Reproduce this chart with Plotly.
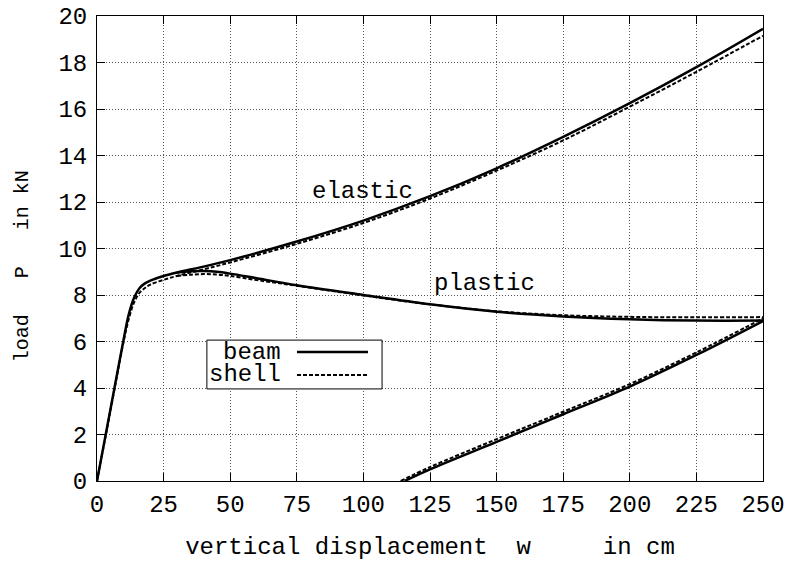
import plotly.graph_objects as go

# ---- data ----
beam_elastic_x = [0, 5, 10, 12, 14, 16, 18, 20, 25, 30, 40, 50, 75, 100, 125, 150, 175, 200, 225, 250]
beam_elastic_y = [0, 3.05, 6.1, 7.2, 7.9, 8.3, 8.5, 8.62, 8.82, 8.97, 9.22, 9.5, 10.3, 11.2, 12.25, 13.45, 14.8, 16.25, 17.8, 19.45]

shell_elastic_x = [0, 5, 10, 12, 14, 16, 18, 20, 25, 30, 40, 50, 75, 100, 125, 150, 175, 200, 225, 250]
shell_elastic_y = [0, 3.0, 6.0, 7.0, 7.7, 8.1, 8.3, 8.45, 8.65, 8.82, 9.1, 9.4, 10.2, 11.1, 12.15, 13.35, 14.65, 16.1, 17.6, 19.15]

beam_plastic_x = [30, 35, 40, 45, 50, 60, 75, 100, 125, 150, 175, 200, 225, 250]
beam_plastic_y = [8.97, 9.02, 9.03, 9.0, 8.92, 8.72, 8.42, 8.0, 7.6, 7.28, 7.08, 6.96, 6.9, 6.9]

shell_plastic_x = [30, 35, 40, 45, 50, 60, 75, 100, 125, 150, 175, 200, 225, 250]
shell_plastic_y = [8.82, 8.87, 8.9, 8.88, 8.82, 8.64, 8.4, 7.98, 7.6, 7.3, 7.13, 7.06, 7.04, 7.05]

beam_reload_x = [115.5, 125, 150, 175, 200, 225, 250]
beam_reload_y = [0, 0.5, 1.68, 2.87, 4.06, 5.42, 6.88]

shell_reload_x = [114, 125, 150, 175, 200, 225, 250]
shell_reload_y = [0, 0.6, 1.8, 2.98, 4.17, 5.53, 7.0]

x_ticks = [0, 25, 50, 75, 100, 125, 150, 175, 200, 225, 250]
y_ticks = [0, 2, 4, 6, 8, 10, 12, 14, 16, 18, 20]

FONT = "Liberation Mono"
FS = 24

beam_line = dict(color="black", width=2.5, shape="spline")
shell_line = dict(color="black", width=2, dash="4px,2px", shape="spline")

fig = go.Figure()
for xs, ys in [(beam_elastic_x, beam_elastic_y), (beam_plastic_x, beam_plastic_y), (beam_reload_x, beam_reload_y)]:
    fig.add_trace(go.Scatter(x=xs, y=ys, mode="lines", line=beam_line, showlegend=False, hoverinfo="skip"))
for xs, ys in [(shell_elastic_x, shell_elastic_y), (shell_plastic_x, shell_plastic_y), (shell_reload_x, shell_reload_y)]:
    fig.add_trace(go.Scatter(x=xs, y=ys, mode="lines", line=shell_line, showlegend=False, hoverinfo="skip"))

axis_common = dict(
    showline=True, linecolor="black", linewidth=1, mirror="allticks",
    ticks="inside", ticklen=8, tickcolor="black", tickwidth=1,
    showgrid=True, gridcolor="#555555", griddash="1px,2px", gridwidth=1,
    zeroline=False, automargin=False,
    tickfont=dict(family=FONT, size=FS, color="black"),
)

fig.update_xaxes(range=[0, 250], tickvals=x_ticks, ticktext=[str(v) for v in x_ticks],
                 ticklabelstandoff=1,
                 title=dict(text="vertical displacement  w     in cm", font=dict(family=FONT, size=FS, color="black"), standoff=21),
                 **axis_common)
fig.update_yaxes(range=[0, 20], tickvals=y_ticks, ticktext=[str(v) for v in y_ticks],
                 ticklabelstandoff=4,
                 **axis_common)

annotations = [
    dict(x=-0.1126, y=0.462, xref="paper", yref="paper", text="load   P   in kN", textangle=-90,
         showarrow=False, xanchor="center", yanchor="middle",
         font=dict(family=FONT, size=20, color="black")),
    dict(x=99.7, y=12.44, xref="x", yref="y", text="elastic", showarrow=False,
         font=dict(family=FONT, size=FS, color="black")),
    dict(x=145.4, y=8.5, xref="x", yref="y", text="plastic", showarrow=False,
         font=dict(family=FONT, size=FS, color="black")),
    dict(x=0.279, y=0.2774, xref="paper", yref="paper", text="beam", showarrow=False, xanchor="right",
         yanchor="middle", font=dict(family=FONT, size=FS, color="black")),
    dict(x=0.279, y=0.228, xref="paper", yref="paper", text="shell", showarrow=False, xanchor="right",
         yanchor="middle", font=dict(family=FONT, size=FS, color="black")),
]

shapes = [
    dict(type="rect", xref="paper", yref="paper", x0=0.165, x1=0.428, y0=0.198, y1=0.303,
         line=dict(color="black", width=1), fillcolor="white", layer="above"),
    dict(type="line", xref="paper", yref="paper", x0=0.3003, x1=0.4069, y0=0.2774, y1=0.2774,
         line=dict(color="black", width=2.5)),
    dict(type="line", xref="paper", yref="paper", x0=0.3003, x1=0.4069, y0=0.228, y1=0.228,
         line=dict(color="black", width=2, dash="4px,2px")),
]

fig.update_layout(
    width=789, height=561,
    margin=dict(l=97, r=26, t=16, b=80),
    plot_bgcolor="white", paper_bgcolor="white",
    annotations=annotations, shapes=shapes,
    font=dict(family=FONT, size=FS, color="black"),
)

fig.write_html("out.html", config={"displayModeBar": False},
               post_script="document.body.style.margin='0';")
